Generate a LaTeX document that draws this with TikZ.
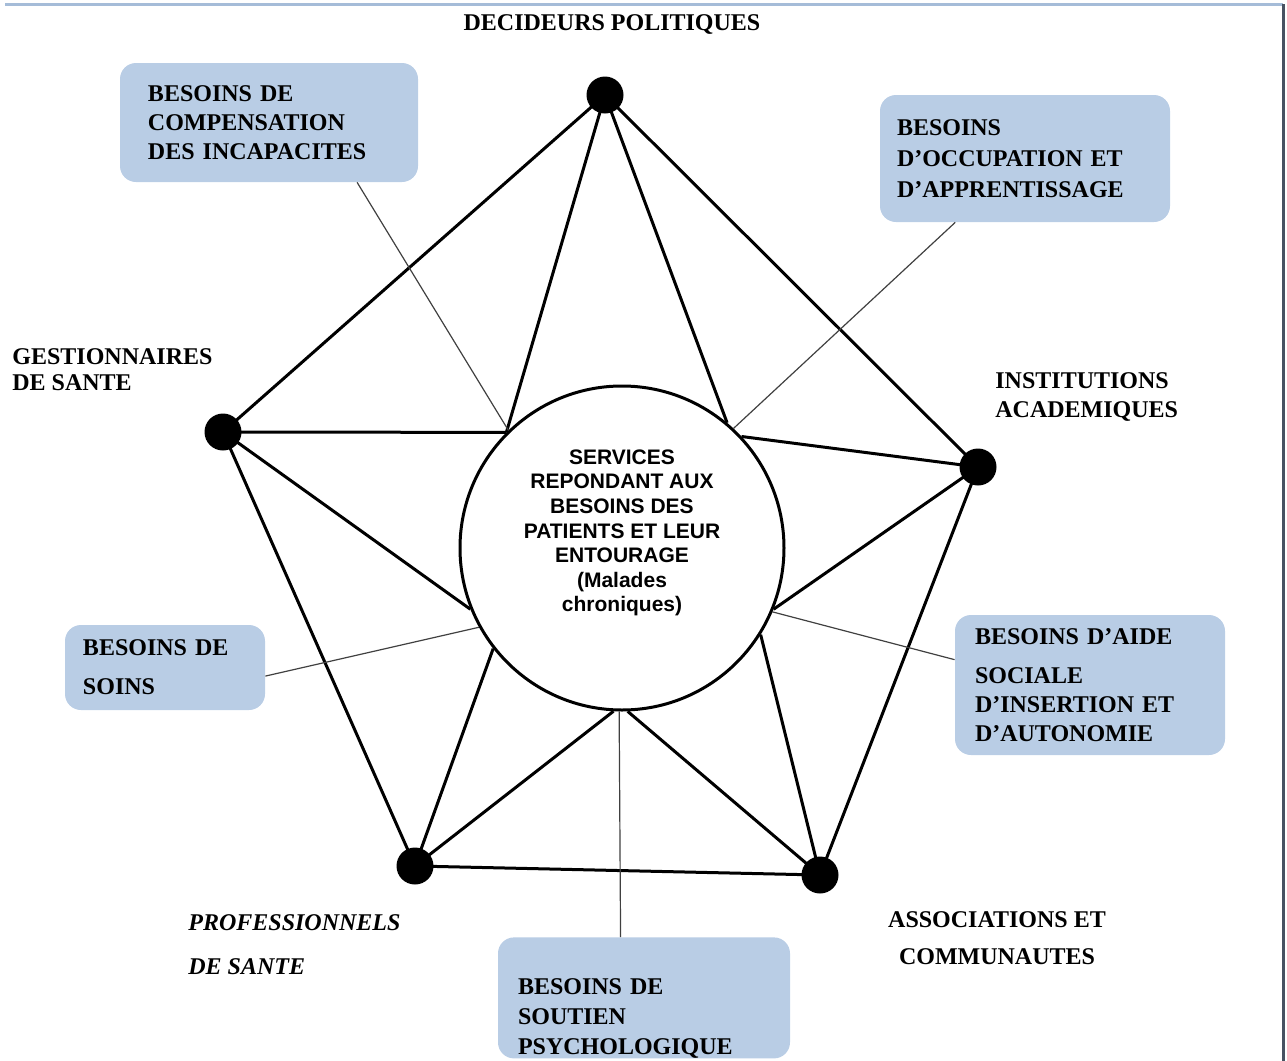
\documentclass[tikz,border=0pt]{standalone}
\usepackage{fontspec}
\setmainfont{Liberation Serif}
\newfontfamily\arialfont{Liberation Sans}
\usetikzlibrary{calc}
\definecolor{bleuboite}{RGB}{185,205,229}
\definecolor{bleubord}{RGB}{165,188,216}
\definecolor{grisbord}{RGB}{72,82,98}
\tikzset{
	point/.style={circle, fill=black, minimum size=18.5pt, inner sep=0pt},
	trait/.style={line width=1.5pt},
	fil/.style={line width=0.6pt, black!75},
	besoin/.style={fill=bleuboite, rounded corners=8pt, align=left, font=\bfseries\fontsize{12}{#1}\selectfont},
	besoin/.default=14.5pt,
	acteur/.style={inner sep=0pt, font=\bfseries\fontsize{12}{#1}\selectfont},
	acteur/.default=14.5pt
}
\begin{document}
\begin{tikzpicture}[x=0.5pt, y=-0.5pt]
	\useasboundingbox (0,0) rectangle (1287,1061);
	%bords de la capture
	\draw [bleubord, line width=1.5pt] (5,4) -- (1283,4);
	\draw [grisbord, line width=1.5pt] (1283,4) -- (1283,1061);
	
	%cercle central et son texte
	\node [circle, draw, line width=1.5pt, minimum size=162pt, inner sep=0pt] (svc) at (622,548) {};
	\node [align=center, font=\arialfont\bfseries\fontsize{10.5}{12.3}\selectfont] (svctxt) at (622,533)
		{SERVICES\\REPONDANT AUX\\BESOINS DES\\PATIENTS ET LEUR\\ENTOURAGE\\(Malades\\chroniques)};
	
	%sommets du pentagone
	\foreach \n/\p in {dp/{605,95}, ia/{978,467}, ac/{820,875}, ps/{415,866}, gs/{223,432}}
		\node [point] (\n) at (\p) {};
	
	%pentagone
	\draw [trait, line join=round] (dp.center) -- (ia.center) -- (ac.center) -- (ps.center) -- (gs.center) -- cycle;
	%rayons vers le cercle
	\foreach \n/\a in {dp/135, dp/50, ia/43, ia/-22, ac/-32, ac/-88, ps/-93, ps/218, gs/202, gs/135}
		\draw [trait] (\n.center) -- (svc.\a);
	
	%acteurs
	\node [acteur] (ldp) at (612,24) {DECIDEURS POLITIQUES};
	\node [acteur=13pt, align=left, anchor=west] (lgs) at (12,370) {GESTIONNAIRES\\DE SANTE};
	\node [acteur, align=left, anchor=west] (lia) at (995,397) {INSTITUTIONS\\ACADEMIQUES};
	\node [acteur, align=left, anchor=west, font=\bfseries\itshape\fontsize{12}{22pt}\selectfont] (lps) at (188,945) {PROFESSIONNELS\\DE SANTE};
	\node [acteur=18.5pt, align=center] (lac) at (997,938) {ASSOCIATIONS ET\\COMMUNAUTES};
	
	%boites des besoins
	\node [besoin, text width=121pt, inner xsep=14pt, minimum height=59.5pt] (bcomp) at (269,122.5)
		{BESOINS DE\\COMPENSATION\\DES INCAPACITES};
	\node [besoin=15.5pt, text width=128pt, inner xsep=8.5pt, minimum height=63.5pt] (bocc) at (1025,158.5)
		{BESOINS\\D’OCCUPATION ET\\D’APPRENTISSAGE};
	\node [besoin=19.5pt, text width=82pt, inner xsep=9pt, minimum height=42.5pt] (bsoins) at (165,667.5)
		{BESOINS DE\\SOINS};
	\node [besoin, text width=115pt, inner xsep=10pt, minimum height=70pt] (baide) at (1090,685)
		{BESOINS D’AIDE\\[5pt]SOCIALE\\D’INSERTION ET\\D’AUTONOMIE};
	\node [besoin=15pt, text width=126pt, inner xsep=10pt, inner ysep=0pt, minimum height=60.5pt, anchor=north] (bsout) at (644,937)
		{\rule{0pt}{28.5pt}BESOINS DE\\SOUTIEN\\PSYCHOLOGIQUE};
	
	%liens fins vers le cercle
	\draw [fil] ($(bcomp.south west)!0.795!(bcomp.south east)$) -- (svc.134);
	\draw [fil] ($(bocc.south west)!0.26!(bocc.south east)$) -- (svc.47);
	\draw [fil] ($(bsoins.north east)!0.6!(bsoins.south east)$) -- (svc.209);
	\draw [fil] ($(baide.north west)!0.32!(baide.south west)$) -- (svc.-23);
	\draw [fil] ($(bsout.north west)!0.42!(bsout.north east)$) -- (svc.-91);
\end{tikzpicture}
\end{document}
